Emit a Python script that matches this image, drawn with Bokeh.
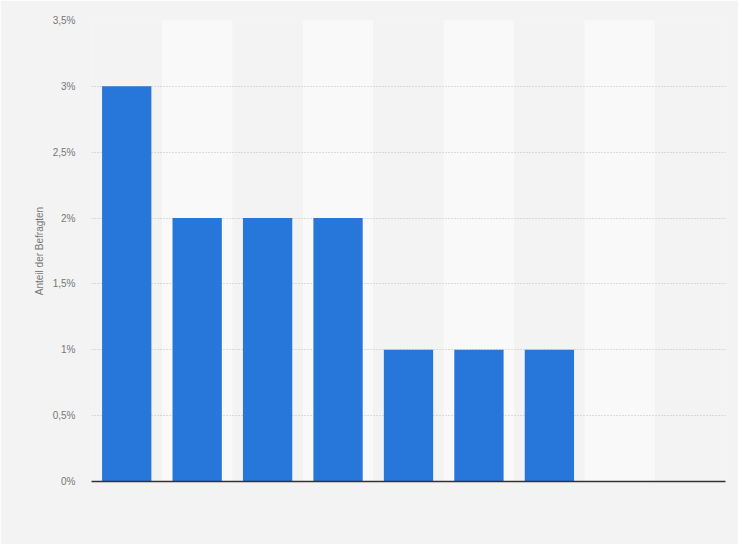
from bokeh.plotting import figure
from bokeh.models import FactorRange, Range1d, FixedTicker
from bokeh.embed import file_html
from bokeh.resources import INLINE

categories = ["1", "2", "3", "4", "5", "6", "7", "8", "9"]
values = [3, 2, 2, 2, 1, 1, 1, 0, 0]
y_ticks = [0, 0.5, 1, 1.5, 2, 2.5, 3, 3.5]
y_tick_labels = ["0%", "0,5%", "1%", "1,5%", "2%", "2,5%", "3%", "3,5%"]
band_colors = ["#f3f3f3" if i % 2 == 0 else "#f9f9f9" for i in range(len(categories))]
band_tops = [3.5] * len(categories)

p = figure(width=738, height=544, output_backend="svg", toolbar_location=None,
           x_range=FactorRange(factors=categories, range_padding=0),
           y_range=Range1d(0, 3.5),
           min_border_left=91, min_border_right=13, min_border_top=20, min_border_bottom=63)

p.background_fill_color = "#f3f3f3"
p.border_fill_color = "#f3f3f3"
p.outline_line_color = None

bands = p.vbar(x=categories, top=band_tops, bottom=0, width=1.0,
               fill_color=band_colors, line_color=None)
bands.level = "image"

p.vbar(x=categories, top=values, width=0.7, fill_color="#2777da", line_color=None)

p.xgrid.visible = False
p.ygrid.grid_line_color = "#bdbdbd"
p.ygrid.grid_line_dash = "1 2"
p.ygrid.grid_line_width = 1

p.yaxis.ticker = FixedTicker(ticks=y_ticks)
p.yaxis.major_label_overrides = {t: l for t, l in zip(y_ticks, y_tick_labels)}
p.yaxis.axis_line_color = None
p.yaxis.major_tick_line_color = None
p.yaxis.minor_tick_line_color = None
p.yaxis.major_label_standoff = 10
p.yaxis.major_label_text_font = "Liberation Sans"
p.yaxis.major_label_text_font_size = "10px"
p.yaxis.major_label_text_color = "#777777"
p.yaxis.axis_label = "Anteil der Befragten"
p.yaxis.axis_label_text_font = "Liberation Sans"
p.yaxis.axis_label_text_font_size = "10px"
p.yaxis.axis_label_text_font_style = "normal"
p.yaxis.axis_label_text_color = "#777777"
p.yaxis.axis_label_standoff = 5

p.xaxis.axis_line_color = "#333333"
p.xaxis.axis_line_width = 1.5
p.xaxis.major_tick_line_color = None
p.xaxis.minor_tick_line_color = None
p.xaxis.major_label_text_alpha = 0
p.xaxis.major_label_text_font_size = "1px"

html = file_html(p, INLINE)
html = html.replace("<body>", '<body style="background-color:#f3f3f3;">', 1)
open("out.html", "w").write(html)
